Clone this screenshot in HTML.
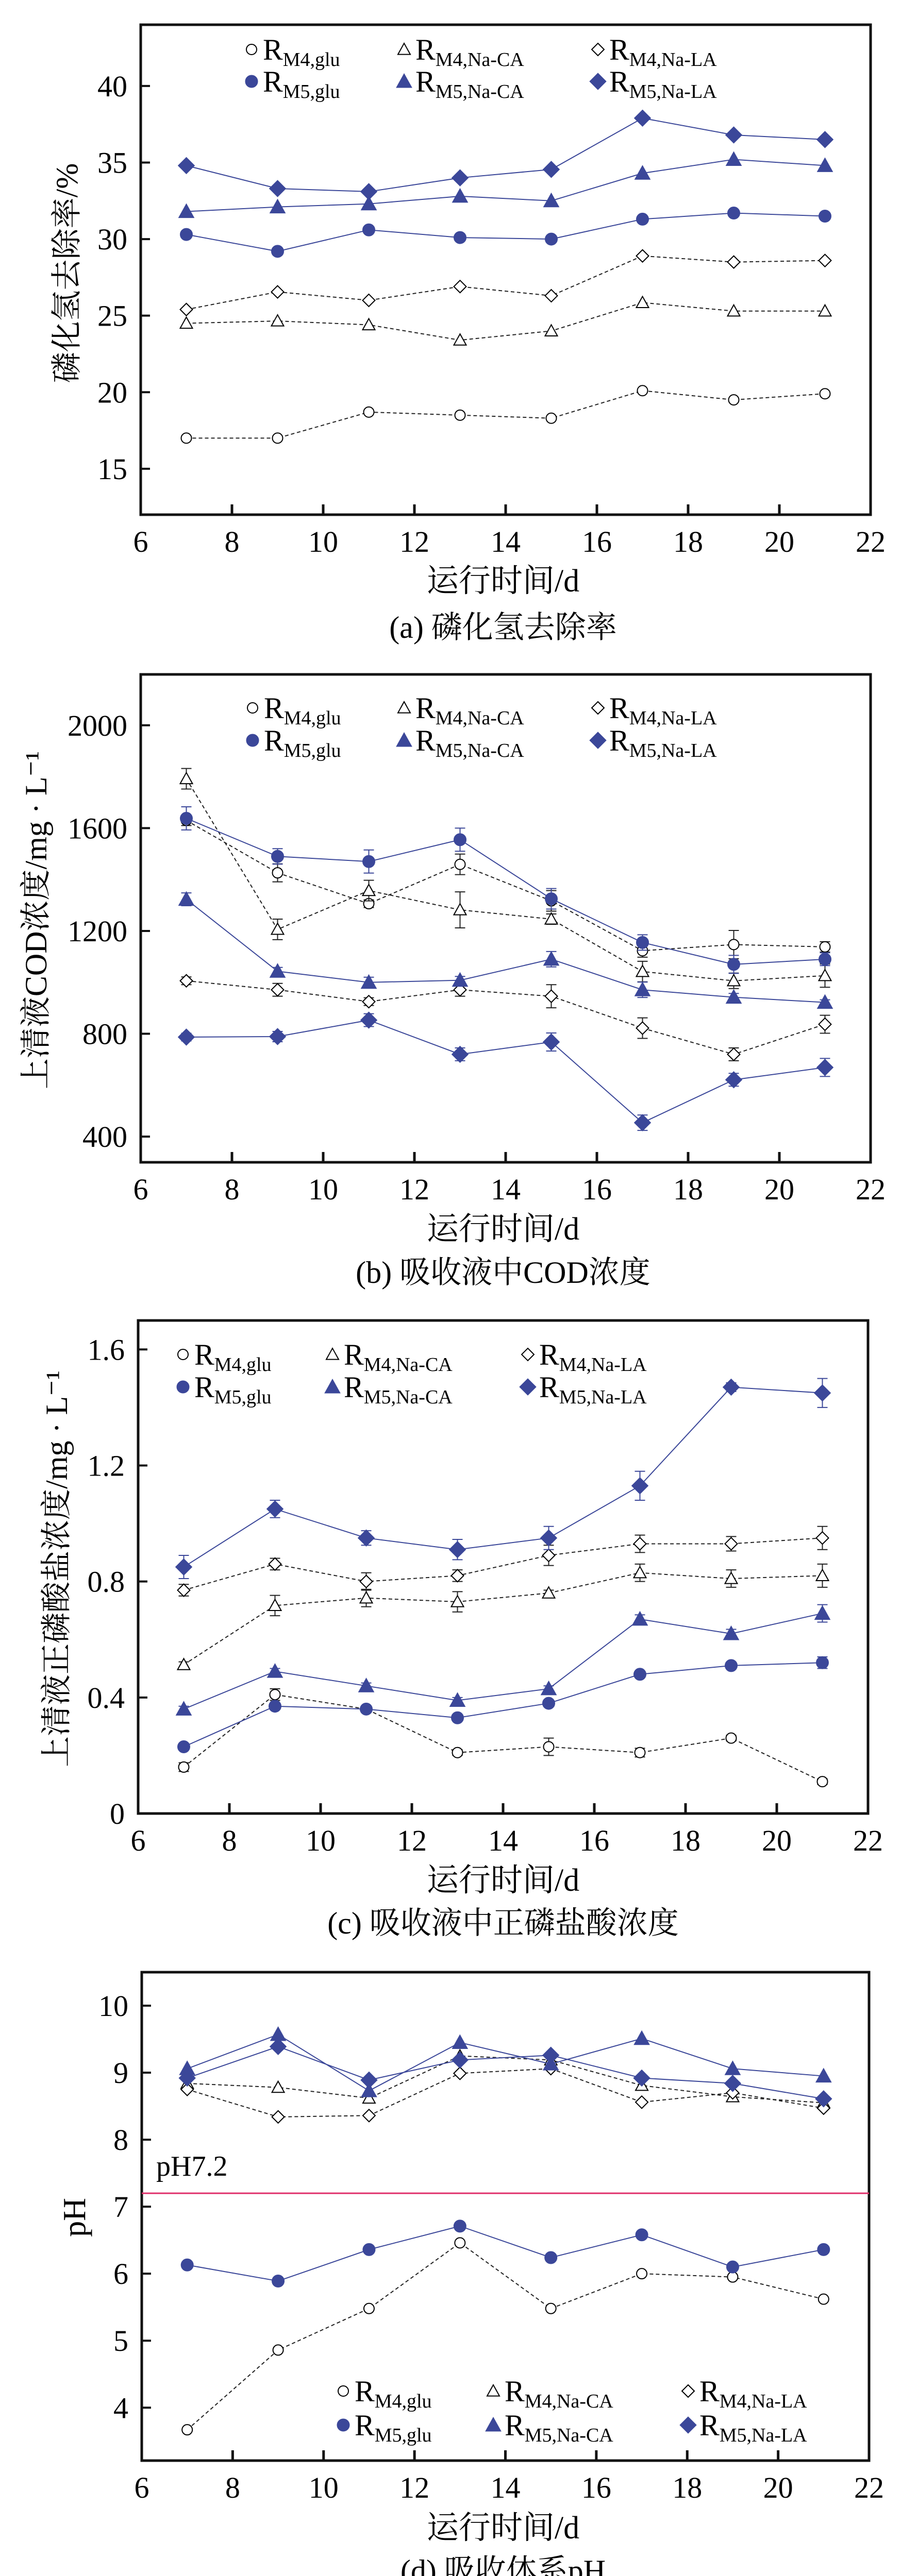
<!DOCTYPE html>
<html><head><meta charset="utf-8"><style>
html,body{margin:0;padding:0;background:#fff;width:1748px;height:5055px;overflow:hidden}
svg{display:block}
text{font-family:"Liberation Serif","Noto Serif CJK SC",serif;fill:#000}
</style></head><body>
<svg id="fig" width="1748" height="5055" viewBox="0 0 1748 5055" xmlns="http://www.w3.org/2000/svg"></svg>
<script>
const days = [7, 9, 11, 13, 15, 17, 19, 21];
const xTicks = [6, 8, 10, 12, 14, 16, 18, 20, 22];
const seriesNames = ["M4,glu", "M4,Na-CA", "M4,Na-LA", "M5,glu", "M5,Na-CA", "M5,Na-LA"];

// (a) PH3 removal rate
const aM4glu = [17.0, 17.0, 18.7, 18.5, 18.3, 20.1, 19.5, 19.9];
const aM4CA  = [24.5, 24.65, 24.4, 23.4, 24.0, 25.85, 25.3, 25.3];
const aM4LA  = [25.4, 26.55, 26.0, 26.9, 26.3, 28.9, 28.5, 28.6];
const aM5glu = [30.3, 29.2, 30.6, 30.1, 30.0, 31.3, 31.7, 31.5];
const aM5CA  = [31.8, 32.1, 32.3, 32.8, 32.5, 34.3, 35.2, 34.8];
const aM5LA  = [34.8, 33.3, 33.1, 34.0, 34.55, 37.9, 36.8, 36.5];
const aTicks = [15, 20, 25, 30, 35, 40];

// (b) COD
const bM4glu = [1630, 1426, 1306, 1459, 1317, 1123, 1147, 1138];
const bM4CA  = [1792, 1206, 1357, 1282, 1246, 1042, 1006, 1026];
const bM4LA  = [1006, 971, 925, 971, 946, 822, 720, 837];
const bM5glu = [1638, 1490, 1470, 1555, 1325, 1155, 1070, 1090];
const bM5CA  = [1323, 1043, 1000, 1008, 1090, 971, 942, 922];
const bM5LA  = [787, 789, 853, 720, 768, 454, 621, 669];
const bErrM4glu = [20, 35, 15, 40, 40, 25, 55, 20];
const bErrM4CA  = [40, 40, 40, 70, 20, 40, 30, 45];
const bErrM4LA  = [15, 25, 15, 25, 45, 40, 25, 35];
const bErrM5glu = [45, 30, 45, 45, 40, 30, 35, 25];
const bErrM5CA  = [25, 15, 20, 15, 30, 30, 15, 10];
const bErrM5LA  = [15, 20, 25, 25, 35, 30, 25, 35];
const bTicks = [400, 800, 1200, 1600, 2000];

// (c) orthophosphate
const cM4glu = [0.16, 0.41, 0.36, 0.21, 0.23, 0.21, 0.26, 0.11];
const cM4CA  = [0.513, 0.717, 0.743, 0.73, 0.76, 0.83, 0.81, 0.82];
const cM4LA  = [0.77, 0.86, 0.80, 0.82, 0.89, 0.93, 0.93, 0.95];
const cM5glu = [0.23, 0.37, 0.36, 0.33, 0.38, 0.48, 0.51, 0.52];
const cM5CA  = [0.36, 0.49, 0.44, 0.39, 0.43, 0.67, 0.62, 0.69];
const cM5LA  = [0.85, 1.05, 0.95, 0.91, 0.95, 1.13, 1.47, 1.45];
const cErrM4glu = [0.015, 0.02, 0.01, 0.01, 0.03, 0.015, 0.01, 0.01];
const cErrM4CA  = [0.01, 0.035, 0.03, 0.035, 0.01, 0.03, 0.03, 0.04];
const cErrM4LA  = [0.02, 0.02, 0.03, 0.02, 0.035, 0.03, 0.025, 0.04];
const cErrM5glu = [0.01, 0.01, 0.01, 0.01, 0.01, 0.01, 0.01, 0.02];
const cErrM5CA  = [0.01, 0.01, 0.01, 0.01, 0.01, 0.015, 0.015, 0.03];
const cErrM5LA  = [0.04, 0.03, 0.025, 0.035, 0.04, 0.05, 0.015, 0.05];
const cTicks = [0, 0.4, 0.8, 1.2, 1.6];
const cTickLabels = ["0", "0.4", "0.8", "1.2", "1.6"];

// (d) pH
const dM4glu = [3.67, 4.86, 5.48, 6.46, 5.48, 6.0, 5.95, 5.62];
const dM4CA  = [8.84, 8.78, 8.62, 9.25, 9.19, 8.81, 8.64, 8.55];
const dM4LA  = [8.75, 8.34, 8.36, 8.99, 9.06, 8.56, 8.70, 8.47];
const dM5glu = [6.13, 5.89, 6.36, 6.71, 6.24, 6.58, 6.10, 6.36];
const dM5CA  = [9.06, 9.57, 8.73, 9.45, 9.13, 9.51, 9.06, 8.95];
const dM5LA  = [8.92, 9.39, 8.89, 9.19, 9.26, 8.92, 8.84, 8.61];
const dTicks = [4, 5, 6, 7, 8, 9, 10];
const pHRef = 7.2;

const NS = "http://www.w3.org/2000/svg";
const svg = document.getElementById("fig");
const BLUE = "#3b4799";
function mk(tag, attrs, parent) {
  const e = document.createElementNS(NS, tag);
  for (const k in attrs) e.setAttribute(k, attrs[k]);
  (parent || svg).appendChild(e);
  return e;
}

function marker(g, kind, filled, cx, cy) {
  const fill = filled ? BLUE : "#fff";
  const stroke = filled ? BLUE : "#000";
  const sw = filled ? 1 : 2;
  let e;
  if (kind === 0) {
    e = mk("circle", {cx: cx, cy: cy, r: filled ? 12 : 10, fill: fill, stroke: stroke, "stroke-width": sw}, g);
  } else if (kind === 1) {
    const s = filled ? 15 : 12;
    e = mk("polygon", {points: `${cx},${cy - s} ${cx - s},${cy + s * 0.8} ${cx + s},${cy + s * 0.8}`, fill: fill, stroke: stroke, "stroke-width": sw}, g);
  } else {
    const s = filled ? 16 : 12;
    e = mk("polygon", {points: `${cx},${cy - s} ${cx + s},${cy} ${cx},${cy + s} ${cx - s},${cy}`, fill: fill, stroke: stroke, "stroke-width": sw}, g);
  }
  return e;
}

function panel(cfg) {
  const g = mk("g", {});
  
  
  const X = v => cfg.L + (v - 6) / 16 * (cfg.R - cfg.L);
  const Y = v => cfg.B - (v - cfg.ymin) / (cfg.ymax - cfg.ymin) * (cfg.B - cfg.T);

  const frame = mk("rect", {x: cfg.L, y: cfg.T, width: cfg.R - cfg.L, height: cfg.B - cfg.T, fill: "none", stroke: "#111", "stroke-width": 5}, g);
  
  

  xTicks.forEach(t => {
    if (t > 6 && t < 22) mk("line", {x1: X(t), x2: X(t), y1: cfg.B, y2: cfg.B - 20, stroke: "#111", "stroke-width": 5}, g);
    const tl = mk("text", {x: X(t), y: cfg.B + 72, "text-anchor": "middle", "font-size": 58}, g);
    tl.textContent = t;
    
    
  });
  cfg.ticks.forEach((t, i) => {
    mk("line", {x1: cfg.L, x2: cfg.L + 18, y1: Y(t), y2: Y(t), stroke: "#111", "stroke-width": 4}, g);
    const tl = mk("text", {x: cfg.L - 26, y: Y(t) + 20, "text-anchor": "end", "font-size": 58}, g);
    tl.textContent = cfg.tickLabels ? cfg.tickLabels[i] : t;
    
    
  });

  if (cfg.ref !== undefined) {
    const rl = mk("line", {x1: cfg.L, x2: cfg.R, y1: Y(cfg.ref), y2: Y(cfg.ref), stroke: "#e0306a", "stroke-width": 3}, g);
    
    
    const rt = mk("text", {x: cfg.L + 28, y: Y(cfg.ref) - 34, "font-size": 56}, g);
    rt.textContent = "pH7.2";
    
    
  }

  cfg.series.forEach((vals, si) => {
    const filled = si >= 3;
    const kind = si % 3;
    const sg = mk("g", {}, g);
    
    
    const pts = days.map((d, i) => X(d) + "," + Y(vals[i])).join(" ");
    mk("polyline", {points: pts, fill: "none", stroke: filled ? BLUE : "#222", "stroke-width": 2, "stroke-dasharray": filled ? "none" : "7,5"}, sg);
    if (cfg.errs) {
      const err = cfg.errs[si];
      days.forEach((d, i) => {
        const col = filled ? BLUE : "#222";
        const x = X(d), y1 = Y(vals[i] - err[i]), y2 = Y(vals[i] + err[i]);
        mk("line", {x1: x, x2: x, y1: y1, y2: y2, stroke: col, "stroke-width": 2}, sg);
        mk("line", {x1: x - 10, x2: x + 10, y1: y1, y2: y1, stroke: col, "stroke-width": 2}, sg);
        mk("line", {x1: x - 10, x2: x + 10, y1: y2, y2: y2, stroke: col, "stroke-width": 2}, sg);
      });
    }
    days.forEach((d, i) => {
      const m = marker(sg, kind, filled, X(d), Y(vals[i]));
      
      
    });
  });

  const lg = mk("g", {}, g);
  
  
  seriesNames.forEach((nm, si) => {
    const col = si % 3, row = si >= 3 ? 1 : 0;
    const mx = cfg.legX[col], my = cfg.legY[row];
    const le = mk("g", {}, lg);
    
    
    marker(le, col, si >= 3, mx, my);
    const t = mk("text", {x: mx + 22, y: my + 20, "font-size": 58}, le);
    t.appendChild(document.createTextNode("R"));
    const sub = mk("tspan", {"font-size": 38, dy: 12}, t);
    sub.textContent = nm;
  });

  const xt = mk("text", {x: 976, y: cfg.xTitleY, "text-anchor": "middle", "font-size": 62}, g);
  xt.textContent = "运行时间/d";
  
  
  const cap = mk("text", {x: 976, y: cfg.capY, "text-anchor": "middle", "font-size": 60}, g);
  cap.textContent = cfg.caption;
  
  
  const yt = mk("text", {x: 0, y: 0, "text-anchor": "middle", "font-size": cfg.yTitleSize || 60, transform: `translate(${cfg.yTitleX},${cfg.yTitleY}) rotate(-90)`}, g);
  yt.textContent = cfg.yTitle;
  
  
}

panel({name: "panel-a-removal-rate", L: 273, R: 1689, T: 48, B: 999, ymin: 12, ymax: 44, ticks: aTicks,
  series: [aM4glu, aM4CA, aM4LA, aM5glu, aM5CA, aM5LA],
  legX: [488, 784, 1160], legY: [96, 158],
  xTitleY: 1148, capY: 1238, caption: "(a) 磷化氢去除率",
  yTitle: "磷化氢去除率/%", yTitleX: 150, yTitleY: 530});

panel({name: "panel-b-cod", L: 273, R: 1689, T: 1309, B: 2256, ymin: 300, ymax: 2198, ticks: bTicks,
  series: [bM4glu, bM4CA, bM4LA, bM5glu, bM5CA, bM5LA],
  errs: [bErrM4glu, bErrM4CA, bErrM4LA, bErrM5glu, bErrM5CA, bErrM5LA],
  legX: [490, 784, 1160], legY: [1374, 1437],
  xTitleY: 2406, capY: 2490, caption: "(b) 吸收液中COD浓度",
  yTitle: "上清液COD浓度/mg · L⁻¹", yTitleX: 90, yTitleY: 1786});

panel({name: "panel-c-orthophosphate", L: 268, R: 1684, T: 2563, B: 3520, ymin: 0, ymax: 1.70, ticks: cTicks, tickLabels: cTickLabels,
  series: [cM4glu, cM4CA, cM4LA, cM5glu, cM5CA, cM5LA],
  errs: [cErrM4glu, cErrM4CA, cErrM4LA, cErrM5glu, cErrM5CA, cErrM5LA],
  legX: [355, 645, 1024], legY: [2629, 2692],
  xTitleY: 3670, capY: 3753, caption: "(c) 吸收液中正磷盐酸浓度",
  yTitle: "上清液正磷酸盐浓度/mg · L⁻¹", yTitleX: 130, yTitleY: 3045});

panel({name: "panel-d-ph", L: 275, R: 1686, T: 3828, B: 4776, ymin: 3.21, ymax: 10.5, ticks: dTicks, ref: pHRef,
  series: [dM4glu, dM4CA, dM4LA, dM5glu, dM5CA, dM5LA],
  legX: [666, 957, 1335], legY: [4641, 4707],
  xTitleY: 4927, capY: 5010, caption: "(d) 吸收体系pH",
  yTitle: "pH", yTitleX: 165, yTitleY: 4304, yTitleSize: 62});
</script>
</body></html>
